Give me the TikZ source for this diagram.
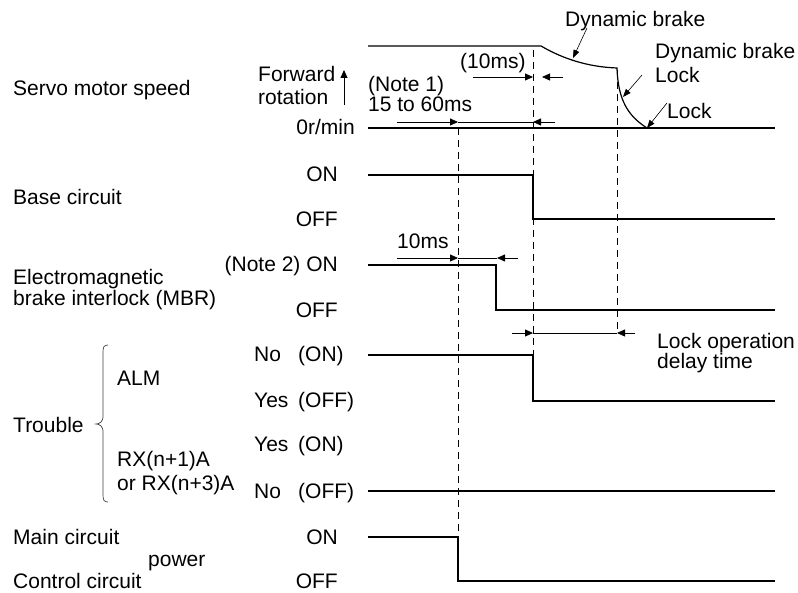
\documentclass[tikz,border=0pt]{standalone}
\usepackage{fontspec}
\setmainfont{Liberation Sans}
\usetikzlibrary{arrows.meta}
\begin{document}
\begin{tikzpicture}[x=1pt,y=-1pt,
  font=\fontsize{21}{23}\selectfont,
  lbl/.style={inner sep=0pt, anchor=base west},
  rlbl/.style={inner sep=0pt, anchor=base east},
  sig/.style={line width=1.2pt, line join=miter},
  sigthick/.style={line width=2pt},
  dimline/.style={line width=0.8pt},
  dsh/.style={line width=0.8pt, dash pattern=on 7pt off 5pt},
  tip/.style={-{Triangle[length=8pt,width=7pt]}},
  leader/.style={line width=0.6pt, -{Triangle[length=8pt,width=6pt]}}]
\useasboundingbox (0,0) rectangle (798,593);

% ---------- left labels ----------
\node[lbl] (servo) at (13,96) {Servo motor speed};
\node[lbl] (base) at (13,205) {Base circuit};
\node[lbl] (em1) at (13,285) {Electromagnetic};
\node[lbl] (em2) at (13,306) {brake interlock (MBR)};
\node[lbl] (trouble) at (13,432) {Trouble};
\node[lbl] (alm) at (117,386) {ALM};
\node[lbl] (rx1) at (117,467) {RX(n+1)A};
\node[lbl] (rx2) at (117,490) {or RX(n+3)A};
\node[lbl] (mainc) at (13,544) {Main circuit};
\node[lbl] (power) at (148,566) {power};
\node[lbl] (ctrlc) at (13,588) {Control circuit};

% ---------- level labels ----------
\node[lbl] (fwd) at (258,82) {Forward};
\node[lbl] (rot) at (258,105) {rotation};
\node[rlbl] (zero) at (355,135) {0r/min};
\node[rlbl] (bon) at (338,182) {ON};
\node[rlbl] (boff) at (338,227) {OFF};
\node[rlbl] (mon) at (338,272) {(Note 2) ON};
\node[rlbl] (moff) at (338,318) {OFF};
\node[lbl] (ano) at (254,362) {No};
\node[lbl] (aon) at (298,362) {(ON)};
\node[lbl] (ayes) at (254,408) {Yes};
\node[lbl] (aoff) at (298,408) {(OFF)};
\node[lbl] (ryes) at (254,452) {Yes};
\node[lbl] (ron) at (298,452) {(ON)};
\node[lbl] (rno) at (254,498) {No};
\node[lbl] (roff) at (298,498) {(OFF)};
\node[rlbl] (pon) at (338,544) {ON};
\node[rlbl] (poff) at (338,588) {OFF};

% ---------- timing labels ----------
\node[lbl] (note1) at (368,92) {(Note 1)};
\node[lbl] (t1560) at (368,112) {15 to 60ms};
\node[lbl] (t10a) at (460,69) {(10ms)};
\node[lbl] (t10b) at (397,249) {10ms};
\node[lbl] (dyn1) at (565,27) {Dynamic brake};
\node[lbl] (dyn2) at (655,59) {Dynamic brake};
\node[lbl] (lock1) at (655,83) {Lock};
\node[lbl] (lock2) at (667,119) {Lock};
\node[lbl] (lod1) at (657,349) {Lock operation};
\node[lbl] (lod2) at (657,369) {delay time};

% ---------- forward rotation arrow ----------
\coordinate (fa0) at (344,105);
\coordinate (fa1) at (344,70);
\draw[dimline,tip] (fa0) -- (fa1);

% ---------- brace ----------
\draw[line width=0.7pt, black!75] (108,345) .. controls (104,345) and (103,347) .. (103,352)
  -- (103,417) .. controls (103,421) and (100,424) .. (96,424)
  .. controls (100,424) and (103,427) .. (103,431)
  -- (103,495) .. controls (103,500) and (104,502) .. (108,502);

% ---------- dashed guides ----------
\draw[dsh] (458,128) -- (458,537);
\draw[dsh] (533,50) -- (533,355);
\draw[dsh] (617,70) -- (617,333);

% ---------- signals ----------
\draw[sig] (368,46) -- (541,46)
  .. controls (565,60) and (590,67) .. (617,68)
  .. controls (618,100) and (628,116) .. (647,128);
\draw[sig] (368,128) -- (775,128);
\draw[sig] (368,175) -- (533,175) -- (533,219) -- (775,219);
\draw[sig] (368,265) -- (496,265) -- (496,310) -- (775,310);
\draw[sig] (368,355) -- (533,355) -- (533,401) -- (775,401);
\draw[sigthick] (368,491) -- (775,491);
\draw[sig] (368,537) -- (458,537) -- (458,581) -- (775,581);

% ---------- dimension arrows ----------
% (10ms)
\draw[dimline,tip] (473,77) -- (533,77);
\draw[dimline,tip] (563,77) -- (542,77);
% 15 to 60ms
\draw[dimline,tip] (397,122) -- (458,122);
\draw[dimline] (458,122) -- (533,122);
\draw[dimline,tip] (555,122) -- (533,122);
% 10ms
\draw[dimline,tip] (397,258) -- (458,258);
\draw[dimline] (458,258) -- (497,258);
\draw[dimline,tip] (518,258) -- (497,258);
% lock operation delay time
\draw[dimline,tip] (512,333) -- (533,333);
\draw[dimline] (533,333) -- (617,333);
\draw[dimline,tip] (635,333) -- (617,333);

% ---------- leaders ----------
\draw[leader] (587,28) -- (573,58);
\draw[leader] (642,75) -- (623,97);
\draw[leader] (667,103) -- (647,128);
\end{tikzpicture}
\end{document}
